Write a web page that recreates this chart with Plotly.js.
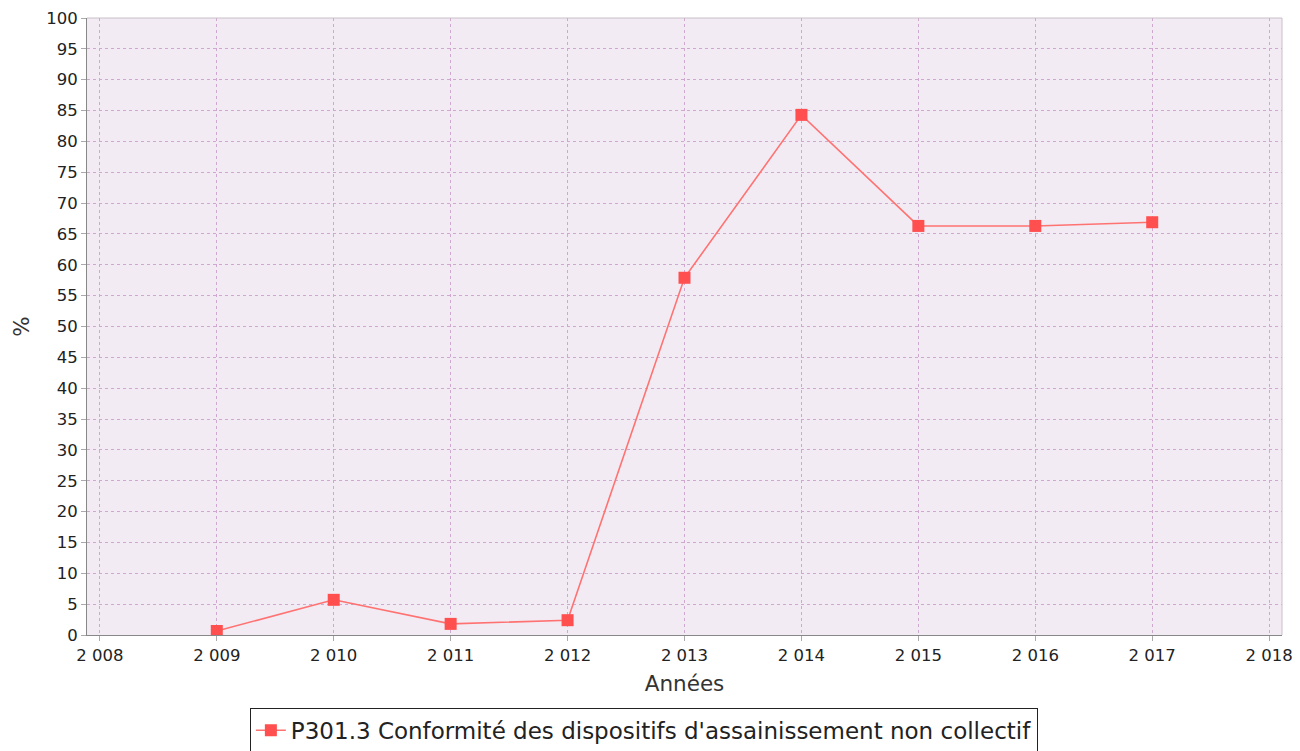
<!DOCTYPE html>
<html><head><meta charset="utf-8">
<script src="https://cdn.plot.ly/plotly-3.0.1.min.js"></script>
<style>html,body{margin:0;padding:0;background:#fff;}#chart{width:1300px;height:751px;}</style>
</head><body><div id="chart"></div>
<script>
const years = [2009, 2010, 2011, 2012, 2013, 2014, 2015, 2016, 2017];
const values = [0.65, 5.7, 1.8, 2.4, 57.9, 84.3, 66.3, 66.3, 66.9];
const xTickVals = [2008, 2009, 2010, 2011, 2012, 2013, 2014, 2015, 2016, 2017, 2018];
const xTickText = ["2 008", "2 009", "2 010", "2 011", "2 012", "2 013", "2 014", "2 015", "2 016", "2 017", "2 018"];
const yTickVals = [0,5,10,15,20,25,30,35,40,45,50,55,60,65,70,75,80,85,90,95,100];
const seriesName = "P301.3 Conformité des dispositifs d'assainissement non collectif";

const trace = {
  x: years, y: values, type: 'scatter', mode: 'lines+markers', name: seriesName,
  line: {color: '#ff7272', width: 1.6},
  marker: {symbol: 'square', size: 12, color: '#ff4f4f'}
};
const gridCol = '#cfa8cf';
const layout = {
  width: 1300, height: 751,
  margin: {l: 87, r: 18, t: 18, b: 116, autoexpand: false},
  paper_bgcolor: '#ffffff', plot_bgcolor: '#f2ebf3',
  font: {family: 'DejaVu Sans, sans-serif', size: 16, color: '#222'},
  showlegend: true,
  legend: {x: 0.466, xanchor: 'center', y: -0.118, yanchor: 'top', orientation: 'h',
    bordercolor: '#222', borderwidth: 1, bgcolor: '#ffffff',
    font: {family: 'DejaVu Sans, sans-serif', size: 23, color: '#222'}},
  xaxis: {range: [2007.89, 2018.11], tickvals: xTickVals, ticktext: xTickText,
    showgrid: true, gridcolor: gridCol, griddash: '3px,3px', gridwidth: 1,
    zeroline: false, showline: true, linecolor: '#888', linewidth: 1, mirror: false,
    ticks: 'outside', ticklen: 5, tickcolor: '#aaa',
    tickfont: {size: 16.5, color: '#222'},
    title: {text: 'Années', font: {size: 21.5, color: '#333'}, standoff: 12}},
  yaxis: {range: [0, 100], tickvals: yTickVals, 
    showgrid: true, gridcolor: gridCol, griddash: '3px,3px', gridwidth: 1,
    zeroline: false, showline: true, linecolor: '#888', linewidth: 1,
    ticks: 'outside', ticklen: 5, tickcolor: '#aaa',
    tickfont: {size: 16.5, color: '#222'},
    title: {text: '%', font: {size: 21.5, color: '#333'}, standoff: 10}},
  shapes: [{type: 'line', xref: 'paper', yref: 'paper', x0: 1, x1: 1, y0: 0, y1: 1, line: {color: '#c8c0c8', width: 1}},
           {type: 'line', xref: 'paper', yref: 'paper', x0: 0, x1: 1, y0: 1, y1: 1, line: {color: '#c8c0c8', width: 1}}]
};
Plotly.newPlot('chart', [trace], layout, {displayModeBar: false, staticPlot: true});
</script></body></html>
